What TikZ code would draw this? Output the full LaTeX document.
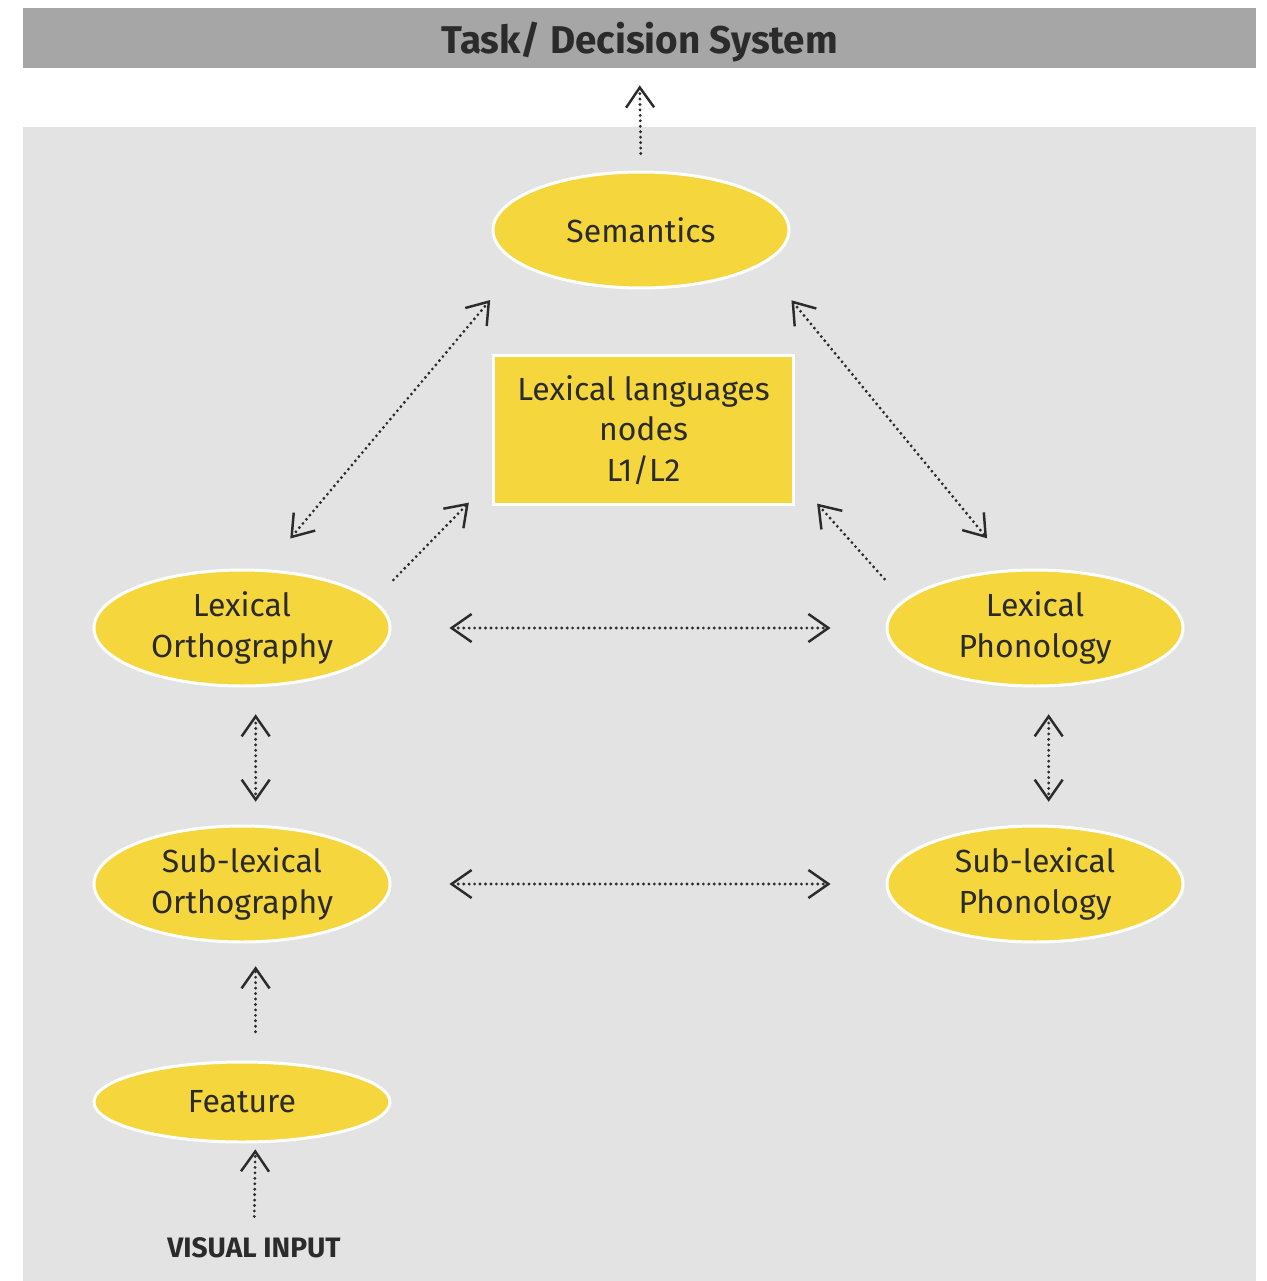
\documentclass[tikz,border=0pt]{standalone}
\usepackage{fontspec}
\setmainfont{Fira Sans}
\usepackage{xcolor}
\usetikzlibrary{shapes.geometric, arrows.meta}
\definecolor{nodeyellow}{HTML}{F5D63D}
\definecolor{bargray}{HTML}{A6A6A6}
\definecolor{panelgray}{HTML}{E3E3E3}
\definecolor{textdark}{HTML}{2B2B2B}
\tikzset{>={Straight Barb[length=4mm,width=5.6mm,line width=1.4pt]}}

\begin{document}
\begin{tikzpicture}[x=0.02cm, y=-0.02cm, ell/.style={ellipse, fill=nodeyellow, draw=white, line width=1.7pt, minimum width=5.92cm, minimum height=2.32cm, inner sep=0pt, align=center, text=textdark, font=\fontsize{18.2}{23}\selectfont}, box/.style={rectangle, fill=nodeyellow, draw=white, line width=1.7pt, minimum width=6.02cm, minimum height=3cm, inner sep=0pt, align=center, text=textdark, font=\fontsize{18.2}{23}\selectfont}, conn/.style={draw=textdark, line width=1.8pt, dash pattern=on 0pt off 3.1pt, line cap=round}]

    \useasboundingbox (0,0) rectangle (1267,1281);
    \fill[panelgray] (23,127) rectangle (1256,1281);

    %Nodes
    \node[fill=bargray, minimum width=24.66cm, minimum height=1.2cm, inner sep=0pt, text depth=0pt, text=textdark, font=\fontsize{22}{26}\selectfont\bfseries](task) at (639.5,38){Task/ Decision System};
    \node[ell](sem) at (641,230){Semantics};
    \node[box](lex) at (643.5,430){Lexical languages\\nodes\\L1/L2};
    \node[ell](lexorth) at (242,628){Lexical\\Orthography};
    \node[ell](lexphon) at (1035,628){Lexical\\Phonology};
    \node[ell](suborth) at (242,884){Sub-lexical\\Orthography};
    \node[ell](subphon) at (1035,884){Sub-lexical\\Phonology};
    \node[ell, minimum height=1.6cm](feature) at (242,1102){Feature};
    \node[inner sep=0pt, text=textdark, font=\fontsize{16}{19}\selectfont\bfseries](visual) at (254,1248){VISUAL INPUT};

    %Lines
    \draw[conn, ->, shorten <=0.34cm, shorten >=0.34cm] (sem.north) -- (task.south);
    \draw[conn, <->, shorten <=0.8cm, shorten >=0.92cm] (lexorth.69) -- (sem.196);
    \draw[conn, <->, shorten <=0.92cm, shorten >=0.8cm] (sem.344) -- (lexphon.111);
    \draw[conn, ->, shorten <=0.56cm, shorten >=0.65cm] (lexorth.12) -- (lex.198);
    \draw[conn, ->, shorten <=0.56cm, shorten >=0.65cm] (lexphon.168) -- (lex.342);
    \draw[conn, <->, shorten <=1.16cm, shorten >=1.1cm] (lexorth.east) -- (lexphon.west);
    \draw[conn, <->, shorten <=1.16cm, shorten >=1.1cm] (suborth.east) -- (subphon.west);
    \draw[conn, <->, shorten <=0.54cm, shorten >=0.46cm] (lexorth.283) -- (suborth.77);
    \draw[conn, <->, shorten <=0.54cm, shorten >=0.46cm] (lexphon.283) -- (subphon.77);
    \draw[conn, ->, shorten <=0.58cm, shorten >=0.46cm] (feature.72) -- (suborth.283);
    \draw[conn, ->, shorten <=0.42cm, shorten >=0.12cm] (visual.north) -- (feature.288);

\end{tikzpicture}
\end{document}
